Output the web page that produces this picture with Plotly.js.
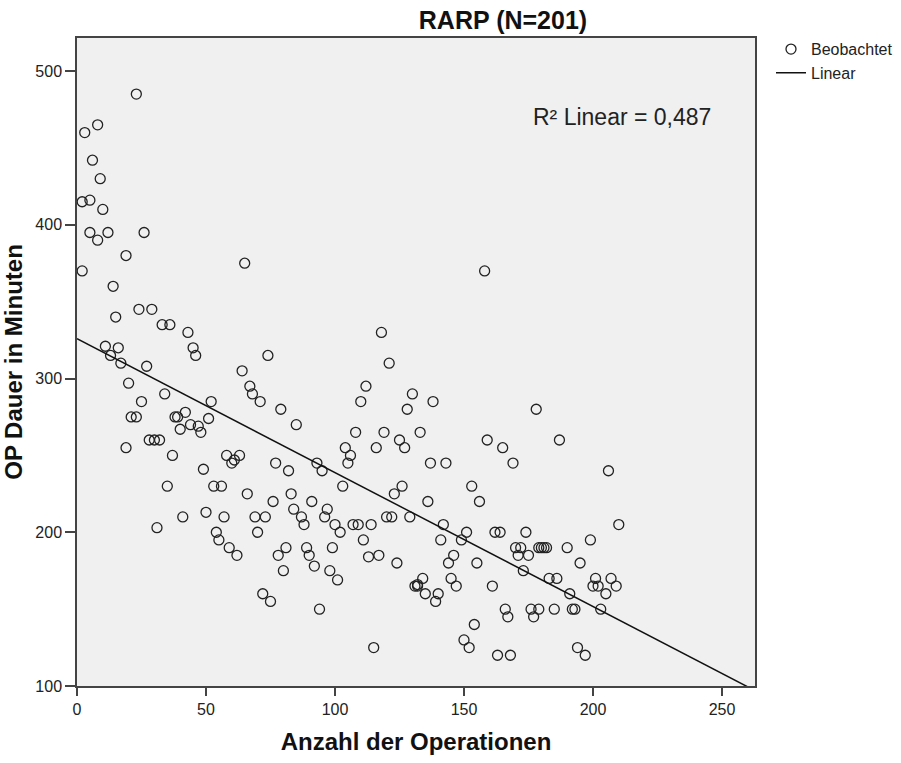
<!DOCTYPE html>
<html>
<head>
<meta charset="utf-8">
<script src="https://cdn.plot.ly/plotly-3.0.1.min.js"></script>
<style>html,body{margin:0;padding:0;background:#fff;}#chart{width:901px;height:763px;}</style>
</head>
<body>
<div id="chart"></div>
<script>
// Observed points: number of operations (x) and OP duration in minutes (y)
const opsCount = [
  23,3,8,6,9,2,5,10,5,12,8,26,19,65,2,14,15,24,29,33,36,43,45,46,74,11,16,13,17,27,
  20,34,25,21,23,19,28,30,32,31,37,35,41,38,39,42,40,44,47,48,51,52,49,53,56,50,57,54,55,59,
  62,58,60,61,63,66,64,67,68,71,79,85,77,82,83,76,84,87,88,69,73,70,78,81,80,72,75,89,90,
  158,118,121,112,110,130,128,138,108,119,133,125,127,116,104,106,105,159,165,169,137,143,93,95,103,126,123,153,156,136,
  91,97,96,100,102,107,109,114,111,120,122,129,142,141,151,149,162,164,174,170,172,171,173,99,92,98,101,113,117,124,
  146,144,155,134,131,132,135,140,139,145,147,161,94,166,167,154,150,152,115,163,168,
  178,187,206,210,199,179,181,182,190,175,195,183,186,201,207,200,202,209,205,191,203,192,193,176,179,185,177,194,197,
  180,132
];
const opsDuration = [
  485,460,465,442,430,415,416,410,395,395,390,395,380,375,370,360,340,345,345,335,335,330,320,315,315,321,320,315,310,308,
  297,290,285,275,275,255,260,260,260,203,250,230,210,275,275,278,267,270,269,265,274,285,241,230,230,213,210,200,195,190,
  185,250,245,247,250,225,305,295,290,285,280,270,245,240,225,220,215,210,205,210,210,200,185,190,175,160,155,190,185,
  370,330,310,295,285,290,280,285,265,265,265,260,255,255,255,250,245,260,255,245,245,245,245,240,230,230,225,230,220,220,
  220,215,210,205,200,205,205,205,195,210,210,210,205,195,200,195,200,200,200,190,190,185,175,190,178,175,169,184,185,180,
  185,180,180,170,165,165,160,160,155,170,165,165,150,150,145,140,130,125,125,120,120,
  280,260,240,205,195,190,190,190,190,185,180,170,170,170,170,165,165,165,160,160,150,150,150,150,150,150,145,125,120,
  190,166
];
const xTicks = [0, 50, 100, 150, 200, 250];
const yTicks = [100, 200, 300, 400, 500];
const titleText = 'RARP (N=201)';
const xTitle = 'Anzahl der Operationen';
const yTitle = 'OP Dauer in Minuten';
const r2Text = 'R² Linear = 0,487';

// least-squares fit from the observed points
const n = opsCount.length;
const mx = opsCount.reduce((a,b)=>a+b,0)/n;
const my = opsDuration.reduce((a,b)=>a+b,0)/n;
let sxy = 0, sxx = 0;
for (let i=0;i<n;i++){ sxy += (opsCount[i]-mx)*(opsDuration[i]-my); sxx += (opsCount[i]-mx)**2; }
const slope = sxy/sxx, intercept = my - slope*mx;
const xRange = [0, 262.8];
const fitX = [xRange[0], xRange[1]];
const fitY = fitX.map(v => intercept + slope*v);

const font = 'Liberation Sans, Arial, sans-serif';
const traces = [
  {x: opsCount, y: opsDuration, mode: 'markers', type: 'scatter', name: 'Beobachtet',
   marker: {symbol: 'circle-open', size: 10, color: '#222', line: {width: 1.3, color: '#222'}}},
  {x: fitX, y: fitY, mode: 'lines', type: 'scatter', name: 'Linear',
   line: {color: '#111', width: 1.5}}
];
const layout = {
  width: 901, height: 763,
  margin: {l: 77, r: 146, t: 38, b: 77, autoexpand: false},
  paper_bgcolor: '#ffffff', plot_bgcolor: '#f0f0f0',
  font: {family: font, size: 16, color: '#222'},
  title: {text: titleText, font: {family: font, size: 25, color: '#111', weight: 'bold'},
          xref: 'container', yref: 'container', x: 503/901, y: 1 - 20/763, xanchor: 'center', yanchor: 'middle'},
  xaxis: {range: xRange, tickvals: xTicks, ticktext: xTicks.map(String), ticks: 'outside', ticklen: 8, tickwidth: 1.5,
          tickcolor: '#444', showgrid: false, zeroline: false, showline: true, linecolor: '#444', linewidth: 1.5,
          mirror: true, tickfont: {size: 16, color: '#222'},
          title: {text: xTitle, font: {size: 24, color: '#111', weight: 'bold'}, standoff: 16}},
  yaxis: {range: [100, 521.5], tickvals: yTicks, ticktext: yTicks.map(String), ticks: 'outside', ticklen: 10, tickwidth: 1.5,
          tickcolor: '#444', showgrid: false, zeroline: false, showline: true, linecolor: '#444', linewidth: 1.5,
          mirror: true, tickfont: {size: 16, color: '#222'},
          title: {text: yTitle, font: {size: 24, color: '#111', weight: 'bold'}, standoff: 6}},
  legend: {x: 1.0236, y: 1.009, xanchor: 'left', yanchor: 'top', bgcolor: 'rgba(0,0,0,0)',
           font: {size: 16, color: '#222'}, tracegroupgap: 0, itemwidth: 30},
  showlegend: true,
  annotations: [{text: r2Text, x: 246.5, y: 470, xref: 'x', yref: 'y', xanchor: 'right', yanchor: 'middle',
                 showarrow: false, font: {size: 23, color: '#222'}}]
};
Plotly.newPlot('chart', traces, layout, {displayModeBar: false});
</script>
</body>
</html>
